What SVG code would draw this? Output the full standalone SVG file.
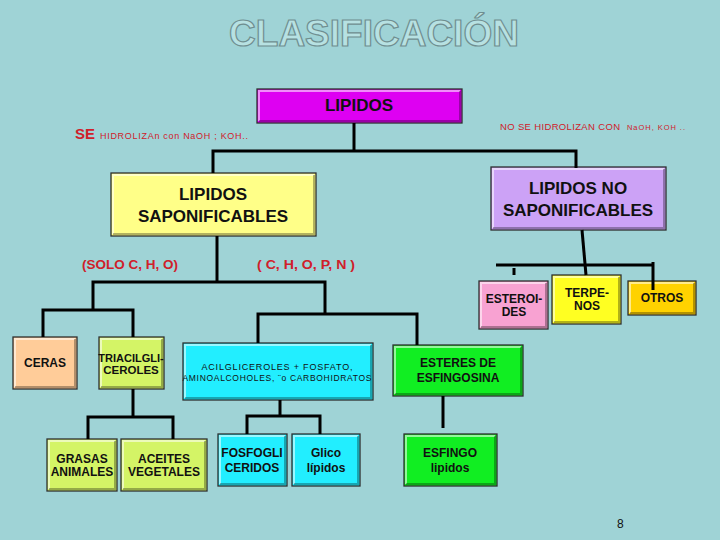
<svg xmlns="http://www.w3.org/2000/svg" width="720" height="540" viewBox="0 0 720 540">
<style>
text{font-family:"Liberation Sans",Arial,sans-serif}
.box{stroke:#2f2f2f;stroke-width:1.3}
.hl{fill:none;stroke:#fff;stroke-opacity:.55;stroke-width:2}
.sh{fill:none;stroke:#000;stroke-opacity:.3;stroke-width:2}
.lbl{font-weight:bold;text-anchor:middle;fill:#111}
.red{fill:#D0202A}
.conn path{fill:none;stroke:#000;stroke-width:3}
</style>
<rect width="720" height="540" fill="#9FD3D6"/>
<text x="374" y="46" text-anchor="middle" font-size="37" font-weight="bold" fill="#B7E1E2" stroke="#6F8E90" stroke-width="1.2">CLASIFICACIÓN</text>

<g id="lipidos">
<rect class="box" x="257" y="89" width="205" height="34" fill="#DE00F2"/>
<polyline class="hl" points="259,121 259,91 460,91"/><polyline class="sh" points="259,121 460,121 460,91"/>
<text class="lbl" x="359" y="111" font-size="17">LIPIDOS</text>
</g>

<g id="saponificables">
<rect class="box" x="111" y="173" width="205" height="63" fill="#FFFF88"/>
<polyline class="hl" points="113,234 113,175 314,175"/><polyline class="sh" points="113,234 314,234 314,175"/>
<text class="lbl" x="213" y="200" font-size="17">LIPIDOS</text>
<text class="lbl" x="213" y="222" font-size="17">SAPONIFICABLES</text>
</g>

<g id="nosaponificables">
<rect class="box" x="491" y="167" width="175" height="63" fill="#CCA2F6"/>
<polyline class="hl" points="493,228 493,169 664,169"/><polyline class="sh" points="493,228 664,228 664,169"/>
<text class="lbl" x="578" y="194" font-size="17">LIPIDOS NO</text>
<text class="lbl" x="578" y="216" font-size="17">SAPONIFICABLES</text>
</g>

<g id="ceras">
<rect class="box" x="13" y="337" width="64" height="52" fill="#FFCC99"/>
<polyline class="hl" points="15,387 15,339 75,339"/><polyline class="sh" points="15,387 75,387 75,339"/>
<text class="lbl" x="45" y="367" font-size="12">CERAS</text>
</g>

<g id="triacilgliceroles">
<rect class="box" x="99" y="337" width="65" height="52" fill="#D4F466"/>
<polyline class="hl" points="101,387 101,339 162,339"/><polyline class="sh" points="101,387 162,387 162,339"/>
<text class="lbl" x="131" y="362" font-size="11">TRIACILGLI-</text>
<text class="lbl" x="131" y="374" font-size="11.5">CEROLES</text>
</g>

<g id="acilgliceroles">
<rect class="box" x="183" y="343" width="190" height="57" fill="#22EEFF"/>
<polyline class="hl" points="185,398 185,345 371,345"/><polyline class="sh" points="185,398 371,398 371,345"/>
<text x="277" y="370" font-size="9" text-anchor="middle" fill="#111" textLength="151" lengthAdjust="spacing">ACILGLICEROLES + FOSFATO,</text>
<text x="277" y="381" font-size="8.5" text-anchor="middle" fill="#111" textLength="189" lengthAdjust="spacing">AMINOALCOHOLES, ¨o CARBOHIDRATOS</text>
</g>

<g id="grasas">
<rect class="box" x="47" y="439" width="70" height="52" fill="#D4F466"/>
<polyline class="hl" points="49,489 49,441 115,441"/><polyline class="sh" points="49,489 115,489 115,441"/>
<text class="lbl" x="82" y="463" font-size="12">GRASAS</text>
<text class="lbl" x="82" y="476" font-size="12">ANIMALES</text>
</g>

<g id="aceites">
<rect class="box" x="121" y="439" width="86" height="52" fill="#D4F466"/>
<polyline class="hl" points="123,489 123,441 205,441"/><polyline class="sh" points="123,489 205,489 205,441"/>
<text class="lbl" x="164" y="463" font-size="12">ACEITES</text>
<text class="lbl" x="164" y="476" font-size="12">VEGETALES</text>
</g>

<g id="fosfogliceridos">
<rect class="box" x="218" y="434" width="69" height="52" fill="#22EEFF"/>
<polyline class="hl" points="220,484 220,436 285,436"/><polyline class="sh" points="220,484 285,484 285,436"/>
<text class="lbl" x="252" y="457" font-size="12">FOSFOGLI</text>
<text class="lbl" x="252" y="472" font-size="12">CERIDOS</text>
</g>

<g id="glicolipidos">
<rect class="box" x="292" y="434" width="68" height="52" fill="#22EEFF"/>
<polyline class="hl" points="294,484 294,436 358,436"/><polyline class="sh" points="294,484 358,484 358,436"/>
<text class="lbl" x="326" y="457" font-size="12">Glico</text>
<text class="lbl" x="326" y="472" font-size="12">lípidos</text>
</g>

<g id="esteres">
<rect class="box" x="393" y="345" width="130" height="51" fill="#11EE22"/>
<polyline class="hl" points="395,394 395,347 521,347"/><polyline class="sh" points="395,394 521,394 521,347"/>
<text class="lbl" x="458" y="367" font-size="12">ESTERES DE</text>
<text class="lbl" x="458" y="382" font-size="12">ESFINGOSINA</text>
</g>

<g id="esfingolipidos">
<rect class="box" x="404" y="434" width="93" height="52" fill="#11EE22"/>
<polyline class="hl" points="406,484 406,436 495,436"/><polyline class="sh" points="406,484 495,484 495,436"/>
<text class="lbl" x="450" y="457" font-size="12">ESFINGO</text>
<text class="lbl" x="450" y="472" font-size="12">lipidos</text>
</g>

<g id="esteroides">
<rect class="box" x="479" y="281" width="69" height="48" fill="#F8A2D2"/>
<polyline class="hl" points="481,327 481,283 546,283"/><polyline class="sh" points="481,327 546,327 546,283"/>
<text class="lbl" x="514" y="303" font-size="12">ESTEROI-</text>
<text class="lbl" x="514" y="316" font-size="12">DES</text>
</g>

<g id="terpenos">
<rect class="box" x="552" y="275" width="69" height="49" fill="#FFFF22"/>
<polyline class="hl" points="554,322 554,277 619,277"/><polyline class="sh" points="554,322 619,322 619,277"/>
<text class="lbl" x="587" y="297" font-size="12">TERPE-</text>
<text class="lbl" x="587" y="310" font-size="12">NOS</text>
</g>

<g id="otros">
<rect class="box" x="628" y="281" width="68" height="34" fill="#FFD200"/>
<polyline class="hl" points="630,313 630,283 694,283"/><polyline class="sh" points="630,313 694,313 694,283"/>
<text class="lbl" x="662" y="302" font-size="12">OTROS</text>
</g>

<g class="conn">
<path d="M354 123V151"/>
<path d="M213 173V151H576V168"/>
<path d="M217 236V282"/>
<path d="M93 310V282H325V314"/>
<path d="M43 337V310H133V337"/>
<path d="M258 343V314H417V345"/>
<path d="M133 389V417"/>
<path d="M88 439V417H173V439"/>
<path d="M280 400V416"/>
<path d="M247 434V416H320V434"/>
<path d="M443 396V428"/>
<path d="M582 230L586 275"/>
<path d="M496 265H654"/>
<path d="M514 268V275"/>
<path d="M653 262V290"/>
</g>

<g id="labels">
<text class="red" x="75" y="139" font-size="15" font-weight="bold">SE</text>
<text class="red" x="100" y="139" font-size="9" textLength="148" lengthAdjust="spacing">HIDROLIZAn con NaOH ; KOH..</text>
<text class="red" x="500" y="130" font-size="9.5" textLength="120" lengthAdjust="spacing">NO SE HIDROLIZAN CON</text>
<text class="red" x="627" y="130" font-size="7.5" textLength="58" lengthAdjust="spacing">NaOH, KOH ..</text>
<text class="red" x="82" y="269" font-size="13" font-weight="bold" textLength="96" lengthAdjust="spacingAndGlyphs">(SOLO C, H, O)</text>
<text class="red" x="257" y="269" font-size="13" font-weight="bold" textLength="98" lengthAdjust="spacingAndGlyphs">( C, H, O, P, N )</text>
<text x="617" y="528" font-size="12" fill="#111">8</text>
</g>
</svg>
